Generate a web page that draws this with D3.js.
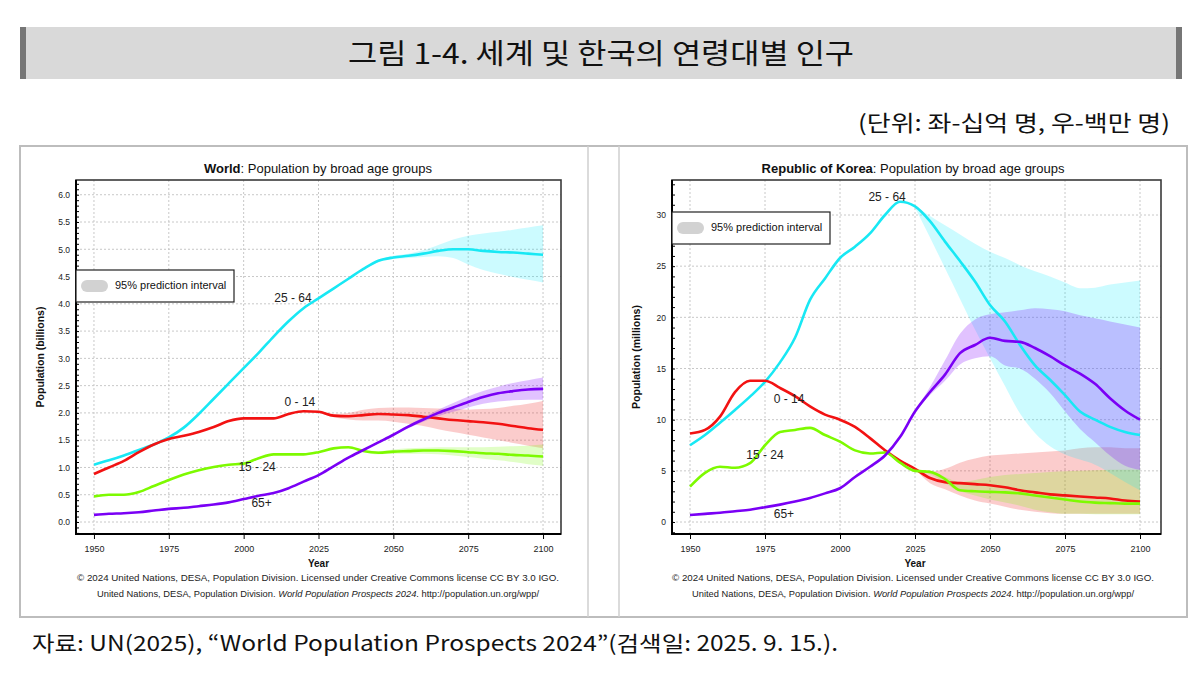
<!DOCTYPE html>
<html>
<head>
<meta charset="utf-8">
<script src="https://cdn.jsdelivr.net/npm/d3@7"></script>
<style>
  body { margin: 0; background: #fff; }
  svg { display: block; }
  .kr { font-family: "Noto Sans CJK KR", sans-serif; }
  .en { font-family: "Liberation Sans", Arial, sans-serif; }
</style>
</head>
<body>
<svg id="fig" width="1200" height="687"></svg>
<script>
// years on the x axis (5-year steps) and years with a prediction interval
const years = [1950,1955,1960,1965,1970,1975,1980,1985,1990,1995,2000,2005,2010,2015,2020,2025,2030,2035,2040,2045,2050,2055,2060,2065,2070,2075,2080,2085,2090,2095,2100]
const bandYears = [2025,2030,2035,2040,2045,2050,2055,2060,2065,2070,2075,2080,2085,2090,2095,2100]
const ageGroups = ["0 - 14", "15 - 24", "25 - 64", "65+"]
const xTicks = [1950, 1975, 2000, 2025, 2050, 2075, 2100]

// World, billions
const world0_14 = [0.88,1.00,1.12,1.28,1.42,1.52,1.58,1.65,1.74,1.85,1.90,1.90,1.90,1.98,2.03,2.02,1.95,1.94,1.96,1.98,1.97,1.96,1.93,1.90,1.87,1.85,1.83,1.80,1.76,1.72,1.69]
const world15_24 = [0.47,0.50,0.50,0.55,0.66,0.77,0.87,0.95,1.01,1.05,1.07,1.17,1.24,1.24,1.24,1.28,1.35,1.37,1.30,1.27,1.29,1.30,1.31,1.31,1.30,1.28,1.26,1.25,1.23,1.22,1.20]
const world25_64 = [1.05,1.13,1.22,1.32,1.42,1.55,1.73,1.98,2.26,2.54,2.82,3.10,3.40,3.68,3.92,4.10,4.28,4.46,4.64,4.79,4.85,4.88,4.92,4.97,5.00,5.00,4.97,4.95,4.94,4.92,4.90]
const world65 = [0.13,0.15,0.16,0.18,0.21,0.24,0.26,0.29,0.32,0.36,0.42,0.48,0.53,0.62,0.74,0.86,1.02,1.18,1.32,1.46,1.60,1.75,1.88,2.00,2.10,2.20,2.29,2.36,2.40,2.43,2.44]

const world0_14Hi = [2.03,1.98,2.00,2.06,2.09,2.10,2.10,2.09,2.08,2.07,2.06,2.07,2.09,2.13,2.17,2.22]
const world0_14Lo = [2.01,1.92,1.88,1.86,1.86,1.84,1.80,1.76,1.70,1.65,1.60,1.55,1.50,1.45,1.40,1.35]
const world15_24Hi = [1.28,1.36,1.39,1.32,1.30,1.33,1.35,1.36,1.37,1.37,1.37,1.37,1.38,1.39,1.40,1.42]
const world15_24Lo = [1.28,1.34,1.35,1.28,1.24,1.25,1.25,1.25,1.24,1.22,1.19,1.16,1.13,1.10,1.06,1.03]
const world25_64Hi = [4.10,4.29,4.47,4.65,4.80,4.88,4.92,4.98,5.08,5.18,5.25,5.29,5.32,5.36,5.40,5.44]
const world25_64Lo = [4.08,4.26,4.44,4.62,4.76,4.82,4.84,4.86,4.87,4.84,4.72,4.62,4.55,4.49,4.44,4.39]
const world65Hi = [0.86,1.02,1.19,1.33,1.47,1.62,1.78,1.92,2.06,2.18,2.30,2.40,2.48,2.55,2.60,2.65]
const world65Lo = [0.86,1.02,1.17,1.31,1.44,1.58,1.72,1.84,1.94,2.02,2.10,2.17,2.21,2.23,2.24,2.24]

// Republic of Korea, millions
const korea0_14 = [8.65,9.0,10.3,12.7,13.8,13.8,13.1,12.3,11.3,10.5,10.0,9.3,8.2,7.0,6.0,5.2,4.3,3.9,3.8,3.7,3.6,3.4,3.1,2.9,2.7,2.6,2.5,2.4,2.3,2.1,2.0]
const korea15_24 = [3.45,4.8,5.4,5.3,5.75,7.5,8.8,9.0,9.2,8.5,7.85,7.0,6.7,6.8,5.8,5.0,4.9,4.2,3.1,3.0,2.95,2.9,2.8,2.6,2.4,2.2,2.0,1.9,1.85,1.8,1.8]
const korea25_64 = [7.5,8.5,9.7,10.95,12.25,13.7,15.6,18.0,21.7,23.8,25.8,26.9,28.2,30.0,31.3,30.85,29.4,27.4,25.5,23.5,21.2,19.6,17.3,15.3,13.9,12.4,10.8,10.0,9.3,8.8,8.5]
const korea65 = [0.68,0.8,0.9,1.05,1.2,1.45,1.7,2.0,2.35,2.8,3.3,4.4,5.4,6.5,8.3,10.8,12.7,14.4,16.5,17.3,18.0,17.7,17.6,17.0,16.2,15.3,14.5,13.5,12.1,10.9,10.0]

const korea0_14Hi = [5.3,4.9,5.2,5.8,6.2,6.5,6.6,6.7,6.8,6.9,7.0,7.2,7.3,7.3,7.2,7.2]
const korea0_14Lo = [5.2,3.8,3.2,2.6,2.1,1.8,1.5,1.2,1.0,0.85,0.8,0.8,0.8,0.8,0.8,0.8]
const korea15_24Hi = [5.05,5.0,4.4,3.9,4.1,4.4,4.6,4.7,4.8,4.9,4.95,5.0,5.05,5.1,5.1,5.1]
const korea15_24Lo = [5.0,4.7,3.8,3.0,2.6,2.2,1.9,1.6,1.2,0.95,0.8,0.8,0.75,0.75,0.75,0.75]
const korea25_64Hi = [30.9,29.9,29.0,28.1,27.2,26.4,25.8,25.1,24.5,24.0,23.4,22.85,22.9,23.2,23.4,23.6]
const korea25_64Lo = [30.7,27.8,24.8,21.8,18.8,16.0,13.3,10.6,8.7,7.4,6.6,6.1,5.6,4.8,3.9,3.1]
const korea65Hi = [10.9,13.2,15.8,18.4,19.8,20.3,20.5,20.7,20.9,20.8,20.6,20.2,19.9,19.6,19.3,19.0]
const korea65Lo = [10.7,12.4,13.8,15.4,16.0,16.2,15.3,15.0,14.0,12.6,10.8,9.1,7.8,6.5,5.5,5.1]

const worldYTicks = [0.0,0.5,1.0,1.5,2.0,2.5,3.0,3.5,4.0,4.5,5.0,5.5,6.0]
const koreaYTicks = [0,5,10,15,20,25,30]

// where each age label sits, in data units (year, value)
const worldLabelAt = [[2018.8, 2.18], [2004.5, 1.0], [2016.5, 4.1], [2006, 0.33]]
const koreaLabelAt = [[1983, 11.9], [1975, 6.5], [2015.7, 31.7], [1981.3, 0.7]]

const lineColors = ["#f21212", "#7dfa00", "#18e8f4", "#7a00f5"]
const bandColors = ["rgba(240,40,40,0.24)", "rgba(120,250,0,0.22)", "rgba(0,236,255,0.20)", "rgba(128,0,255,0.24)"]

const svg = d3.select("#fig")

// title bar
svg.append("rect").attr("x", 20).attr("y", 27).attr("width", 1162).attr("height", 52).attr("fill", "#d9d9d9")
svg.append("rect").attr("x", 20).attr("y", 27).attr("width", 6).attr("height", 52).attr("fill", "#767676")
svg.append("rect").attr("x", 1176).attr("y", 27).attr("width", 6).attr("height", 52).attr("fill", "#767676")
svg.append("text").attr("class", "kr").attr("x", 601).attr("y", 64).attr("text-anchor", "middle")
    .attr("font-size", 28).attr("fill", "#111").attr("textLength", 506).attr("lengthAdjust", "spacingAndGlyphs")
    .text("그림 1-4. 세계 및 한국의 연령대별 인구")
svg.append("text").attr("class", "kr").attr("x", 1170).attr("y", 131).attr("text-anchor", "end")
    .attr("font-size", 22).attr("fill", "#111").attr("textLength", 312).attr("lengthAdjust", "spacingAndGlyphs")
    .text("(단위: 좌-십억 명, 우-백만 명)")

// panel frames
svg.append("rect").attr("x", 20).attr("y", 146).attr("width", 1167).attr("height", 471)
    .attr("fill", "none").attr("stroke", "#bdbdbd").attr("stroke-width", 2)
svg.append("line").attr("x1", 588).attr("x2", 588).attr("y1", 146).attr("y2", 617).attr("stroke", "#cfcfcf").attr("stroke-width", 1.5)
svg.append("line").attr("x1", 619).attr("x2", 619).attr("y1", 146).attr("y2", 617).attr("stroke", "#cfcfcf").attr("stroke-width", 1.5)

svg.append("text").attr("class", "kr").attr("x", 32).attr("y", 651)
    .attr("font-size", 21).attr("fill", "#111").attr("textLength", 806).attr("lengthAdjust", "spacingAndGlyphs")
    .text("자료: UN(2025), “World Population Prospects 2024”(검색일: 2025. 9. 15.).")

function drawChart(cfg) {
    const g = svg.append("g").attr("class", "en")
    const x = d3.scaleLinear().domain(cfg.xDomain).range([cfg.left, cfg.right])
    const y = d3.scaleLinear().domain(cfg.yDomain).range([534, 180])

    // grid
    g.append("g").selectAll("line").data(xTicks).join("line")
        .attr("x1", d => x(d)).attr("x2", d => x(d)).attr("y1", 180).attr("y2", 534)
        .attr("stroke", "#c8c8c8").attr("stroke-dasharray", "2,2")
    g.append("g").selectAll("line").data(cfg.yTicks).join("line")
        .attr("x1", cfg.left).attr("x2", cfg.right).attr("y1", d => y(d)).attr("y2", d => y(d))
        .attr("stroke", "#c8c8c8").attr("stroke-dasharray", "2,2")

    // prediction intervals
    const area = d3.area().curve(d3.curveMonotoneX)
        .x(d => x(d.year)).y0(d => y(d.lo)).y1(d => y(d.hi))
    cfg.bands.forEach((b, i) => {
        const rows = bandYears.map((yr, j) => ({year: yr, lo: b[1][j], hi: b[0][j]}))
        g.append("path").attr("d", area(rows)).attr("fill", bandColors[i]).attr("stroke", "none")
    })

    // series
    const line = d3.line().curve(d3.curveMonotoneX).x(d => x(d[0])).y(d => y(d[1]))
    const order = [2, 0, 1, 3]
    order.forEach(i => {
        g.append("path").attr("d", line(years.map((yr, j) => [yr, cfg.series[i][j]])))
            .attr("fill", "none").attr("stroke", lineColors[i]).attr("stroke-width", 2.6)
    })

    // labels
    g.append("g").selectAll("text").data(ageGroups).join("text")
        .attr("x", (d, i) => x(cfg.labelAt[i][0])).attr("y", (d, i) => y(cfg.labelAt[i][1]))
        .attr("text-anchor", "middle").attr("dominant-baseline", "middle")
        .attr("font-size", 12).attr("fill", "#222").text(d => d)

    // frame and axes
    g.append("rect").attr("x", cfg.left).attr("y", 180).attr("width", cfg.right - cfg.left).attr("height", 354)
        .attr("fill", "none").attr("stroke", "#3a3a3a").attr("stroke-width", 1.6)
    g.append("line").attr("x1", cfg.left).attr("x2", cfg.left).attr("y1", 180).attr("y2", 535).attr("stroke", "#000").attr("stroke-width", 2)
    g.append("line").attr("x1", cfg.left - 1).attr("x2", cfg.right).attr("y1", 534).attr("y2", 534).attr("stroke", "#000").attr("stroke-width", 2)

    const yAxis = g.append("g").attr("transform", `translate(${cfg.left},0)`)
        .call(d3.axisLeft(y).tickValues(cfg.yTicks).tickFormat(d3.format(cfg.yFormat)).tickSize(0).tickPadding(6))
    yAxis.select(".domain").remove()
    yAxis.selectAll("text").attr("font-size", 8.5).attr("fill", "#222")

    const minor = g.append("g").attr("transform", `translate(${cfg.left},0)`)
        .call(d3.axisRight(y).ticks(cfg.minorCount).tickSize(3).tickFormat(""))
    minor.select(".domain").remove()
    minor.selectAll("line").attr("stroke", "#000")

    const xAxis = g.append("g").attr("transform", "translate(0,534)")
        .call(d3.axisBottom(x).tickValues(xTicks).tickFormat(d3.format("d")).tickSize(5).tickPadding(7))
    xAxis.select(".domain").remove()
    xAxis.selectAll("line").attr("stroke", "#000")
    xAxis.selectAll("text").attr("font-size", 9).attr("fill", "#222")

    const mid = (cfg.panelLeft + cfg.panelRight) / 2
    const t = g.append("text").attr("x", mid).attr("y", 173).attr("text-anchor", "middle").attr("font-size", 13).attr("fill", "#111")
    t.append("tspan").attr("font-weight", "bold").text(cfg.name)
    t.append("tspan").text(": Population by broad age groups")

    g.append("text").attr("transform", `translate(${cfg.left - 35},357) rotate(-90)`)
        .attr("text-anchor", "middle").attr("dominant-baseline", "middle")
        .attr("font-size", 10.5).attr("font-weight", "bold").attr("fill", "#111").text(cfg.yTitle)
    g.append("text").attr("x", x(2025)).attr("y", 567).attr("text-anchor", "middle")
        .attr("font-size", 10).attr("font-weight", "bold").attr("fill", "#111").text("Year")

    g.append("text").attr("x", mid).attr("y", 581).attr("text-anchor", "middle").attr("font-size", 9.5).attr("fill", "#222")
        .attr("textLength", 482).attr("lengthAdjust", "spacingAndGlyphs")
        .text("© 2024 United Nations, DESA, Population Division. Licensed under Creative Commons license CC BY 3.0 IGO.")
    const c = g.append("text").attr("x", mid).attr("y", 597).attr("text-anchor", "middle").attr("font-size", 9.5).attr("fill", "#222")
        .attr("textLength", 442).attr("lengthAdjust", "spacingAndGlyphs")
    c.append("tspan").text("United Nations, DESA, Population Division. ")
    c.append("tspan").attr("font-style", "italic").text("World Population Prospects 2024")
    c.append("tspan").text(". http://population.un.org/wpp/")

    // legend
    const lg = g.append("g").attr("transform", `translate(${cfg.left},${cfg.legendTop})`)
    lg.append("rect").attr("width", 158).attr("height", 32).attr("fill", "#fff").attr("stroke", "#222").attr("stroke-width", 1.2)
    lg.append("rect").attr("x", 5).attr("y", 10).attr("width", 27).attr("height", 12).attr("rx", 6).attr("fill", "#d2d2d2")
    lg.append("text").attr("x", 39).attr("y", 16.5).attr("dominant-baseline", "middle")
        .attr("font-size", 11).attr("fill", "#111").text("95% prediction interval")
}

drawChart({
    name: "World", yTitle: "Population (billions)",
    panelLeft: 20, panelRight: 616, left: 76, right: 561,
    xDomain: [1944, 2106], yDomain: [-0.22, 6.27], yTicks: worldYTicks, yFormat: ".1f", minorCount: 65,
    legendTop: 270,
    series: [world0_14, world15_24, world25_64, world65],
    bands: [[world0_14Hi, world0_14Lo], [world15_24Hi, world15_24Lo], [world25_64Hi, world25_64Lo], [world65Hi, world65Lo]],
    labelAt: worldLabelAt
})

drawChart({
    name: "Republic of Korea", yTitle: "Population (millions)",
    panelLeft: 619, panelRight: 1207, left: 672, right: 1161,
    xDomain: [1944, 2107], yDomain: [-1.17, 33.42], yTicks: koreaYTicks, yFormat: "d", minorCount: 33,
    legendTop: 212,
    series: [korea0_14, korea15_24, korea25_64, korea65],
    bands: [[korea0_14Hi, korea0_14Lo], [korea15_24Hi, korea15_24Lo], [korea25_64Hi, korea25_64Lo], [korea65Hi, korea65Lo]],
    labelAt: koreaLabelAt
})
</script>
</body>
</html>
